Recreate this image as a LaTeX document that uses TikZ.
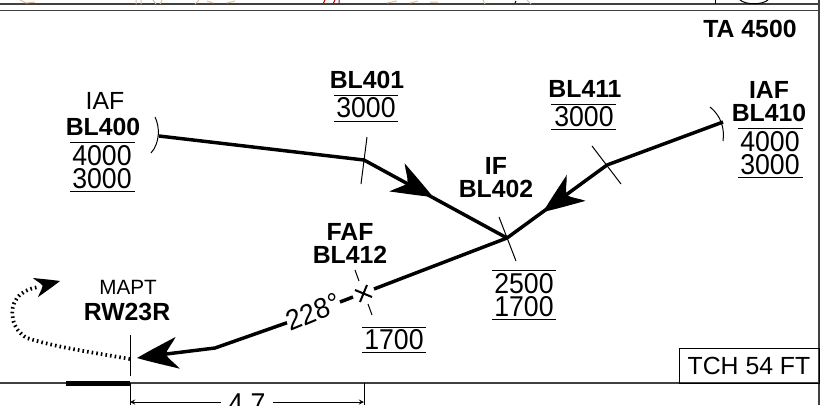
\documentclass[tikz,border=0pt]{standalone}
\usepackage{fontspec}
\setmainfont{Liberation Sans}
\usetikzlibrary{calc}
\tikzset{
  txt/.style={inner sep=0pt, font=\fontsize{18.6}{18.6}\selectfont},
  small/.style={inner sep=0pt, font=\fontsize{15.5}{15.5}\selectfont},
  bold/.style={inner sep=0pt, font=\fontsize{18.6}{18.6}\selectfont\bfseries},
  alt/.style={inner sep=0pt, xscale=0.93, font=\fontsize{21.5}{21.5}\selectfont},
  track/.style={line width=2.6pt},
  thin line/.style={line width=0.75pt},
  frame/.style={line width=1pt, black!75},
  missed/.style={line width=2.8pt, dash pattern=on 1.2pt off 2.3pt},
  head/.pic={\fill[black] (0,0) .. controls (-14,-6) and (-28,-11) .. (-41,-16) .. controls (-37,-10) and (-31,-5) .. (-29,0) .. controls (-31,5) and (-37,10) .. (-41,16) .. controls (-28,11) and (-14,6) .. (0,0) -- cycle;}
}
\begin{document}
\begin{tikzpicture}[>=stealth, x=0.75pt, y=-0.75pt]
  \useasboundingbox (0,0) rectangle (826,405);

  % frame
  \draw[frame] (0,4) -- (819,4);
  \draw[frame] (0,10.7) -- (819,10.7);
  \draw[frame] (819,0) -- (819,405);
  \draw[frame, line width=0.8pt] (0,383) -- (819,383);

  % remains of the strip above
  \draw[thin line, brown!50] (20,0) -- (26,3) -- (35,2);
  \draw[thin line, brown!50] (136,0) -- (136,4) (141,0) -- (141,4) (153,0) -- (156,4) (162,0) -- (160,4);
  \draw[thin line, brown!50] (195,4) -- (199,0) (207,1) -- (213,3) (227,3) -- (235,1);
  \draw[thin line, red!70!black] (323,4) -- (325,0) (333,4) -- (335,0) (339,4) -- (339,0);
  \draw[thin line, brown!50] (387,3) -- (397,1) (410,3) -- (418,1) (430,2) -- (438,2);
  \draw[thin line, brown!50] (483,0) -- (485,4) (527,0) -- (531,4);
  \draw[thin line] (515,3) -- (516,1);
  \draw[thin line] (715,0) -- (715,4);
  \draw[thin line] (740,0) .. controls (746,5) and (762,5) .. (768,0);

  % waypoints
  \coordinate (bl400) at (159,136);
  \coordinate (bl401) at (364,160);
  \coordinate (bl402) at (507,238);
  \coordinate (bl410) at (723,122);
  \coordinate (bl411) at (607,165);
  \coordinate (fafin) at (374,289);
  \coordinate (fafout) at (353,297);
  \coordinate (fafdash) at (340,302);
  \coordinate (bend) at (215,348);
  \coordinate (rwy) at (130,359);
  \node[alt, rotate=21] (course) at (313,312) {228°};

  % tracks
  \draw[track] (bl400) -- (bl401) -- (bl402);
  \draw[track] (bl410) -- (bl411) -- (bl402);
  \draw[track] (bl402) -- (fafin);
  \draw[track] (fafout) -- (fafdash);
  \draw[track] (course.west) -- (bend) -- (150,356);
  \pic[rotate=-28.6] at (433,197) {head};
  \pic[rotate=216] at (543,212) {head};
  \pic[rotate=187.3] at (137,358) {head};

  % fix marks
  \draw[thin line] (155,117) .. controls (160,127) and (160,143) .. (151,153);
  \draw[thin line] (710,107) .. controls (720,115) and (725,127) .. (723,141);
  \draw[thin line] (367,137) -- (361,184);
  \draw[thin line] (592,146) -- (621,184);
  \draw[thin line] (499,217) -- (516,261);
  \draw[thin line] (130,335) -- (130,376);
  \draw[line width=1.5pt] (355,290) -- (372,297);
  \draw[line width=1.5pt] (367,285) -- (360,302);
  \draw[thin line] (355,270) -- (359,281);
  \draw[thin line] (368,304) -- (372,315);

  % missed approach
  \draw[missed] (rwy) .. controls (90,352) and (55,347) .. (27,338) .. controls (12,330) and (8,310) .. (17,298) .. controls (22,292) and (28,289) .. (38,287);
  \pic[rotate=15, scale=0.62] at (60,281) {head};

  % runway and distance
  \draw[line width=3.8pt] (66,383.5) -- (130,383.5);
  \draw[thin line] (130,383) -- (130,405);
  \draw[thin line] (364,383) -- (364,405);
  \coordinate (distl) at (130,402);
  \coordinate (distr) at (364,402);
  \node[alt, inner xsep=6pt] (dist) at (247,404) {4.7};
  \draw[->, thin line] (dist.west |- distl) -- (distl);
  \draw[->, thin line] (dist.east |- distr) -- (distr);

  % labels
  \node[bold] (ta) at (750,29) {TA 4500};
  \node[txt, draw, line width=0.6pt, minimum width=105pt, minimum height=26.25pt] (tch) at (749,365.5) {TCH 54 FT};

  \node[txt] (iafl) at (105,101) {IAF};
  \node[bold] (nl400) at (103,127) {BL400};
  \node[alt] (al400a) at (102,156) {4000};
  \node[alt] (al400b) at (102,179) {3000};
  \draw[thin line] (70,142) -- (135,142);
  \draw[thin line] (70,191) -- (135,191);

  \node[bold] (nl401) at (367,80) {BL401};
  \node[alt] (al401) at (366,108) {3000};
  \draw[thin line] (334,95) -- (398,95);
  \draw[thin line] (334,121) -- (398,121);

  \node[bold] (nl411) at (585,89) {BL411};
  \node[alt] (al411) at (584,117) {3000};
  \draw[thin line] (551,104) -- (616,104);
  \draw[thin line] (551,129) -- (616,129);

  \node[bold] (iafr) at (769,90) {IAF};
  \node[bold] (nl410) at (769,113) {BL410};
  \node[alt] (al410a) at (770,142) {4000};
  \node[alt] (al410b) at (770,165) {3000};
  \draw[thin line] (738,128) -- (803,128);
  \draw[thin line] (738,177) -- (803,177);

  \node[bold] (ifx) at (496,166) {IF};
  \node[bold] (nl402) at (496,189) {BL402};
  \node[alt] (al402a) at (524,284) {2500};
  \node[alt] (al402b) at (524,307) {1700};
  \draw[thin line] (492,270) -- (556,270);
  \draw[thin line] (492,319) -- (556,319);

  \node[bold] (faf) at (350,232) {FAF};
  \node[bold] (nl412) at (350,255) {BL412};
  \node[alt] (al412) at (394,340) {1700};
  \draw[thin line] (362,327) -- (426,327);
  \draw[thin line] (362,352) -- (426,352);

  \node[small] (mapt) at (128,287) {MAPT};
  \node[bold] (rw) at (127,312) {RW23R};
\end{tikzpicture}
\end{document}
